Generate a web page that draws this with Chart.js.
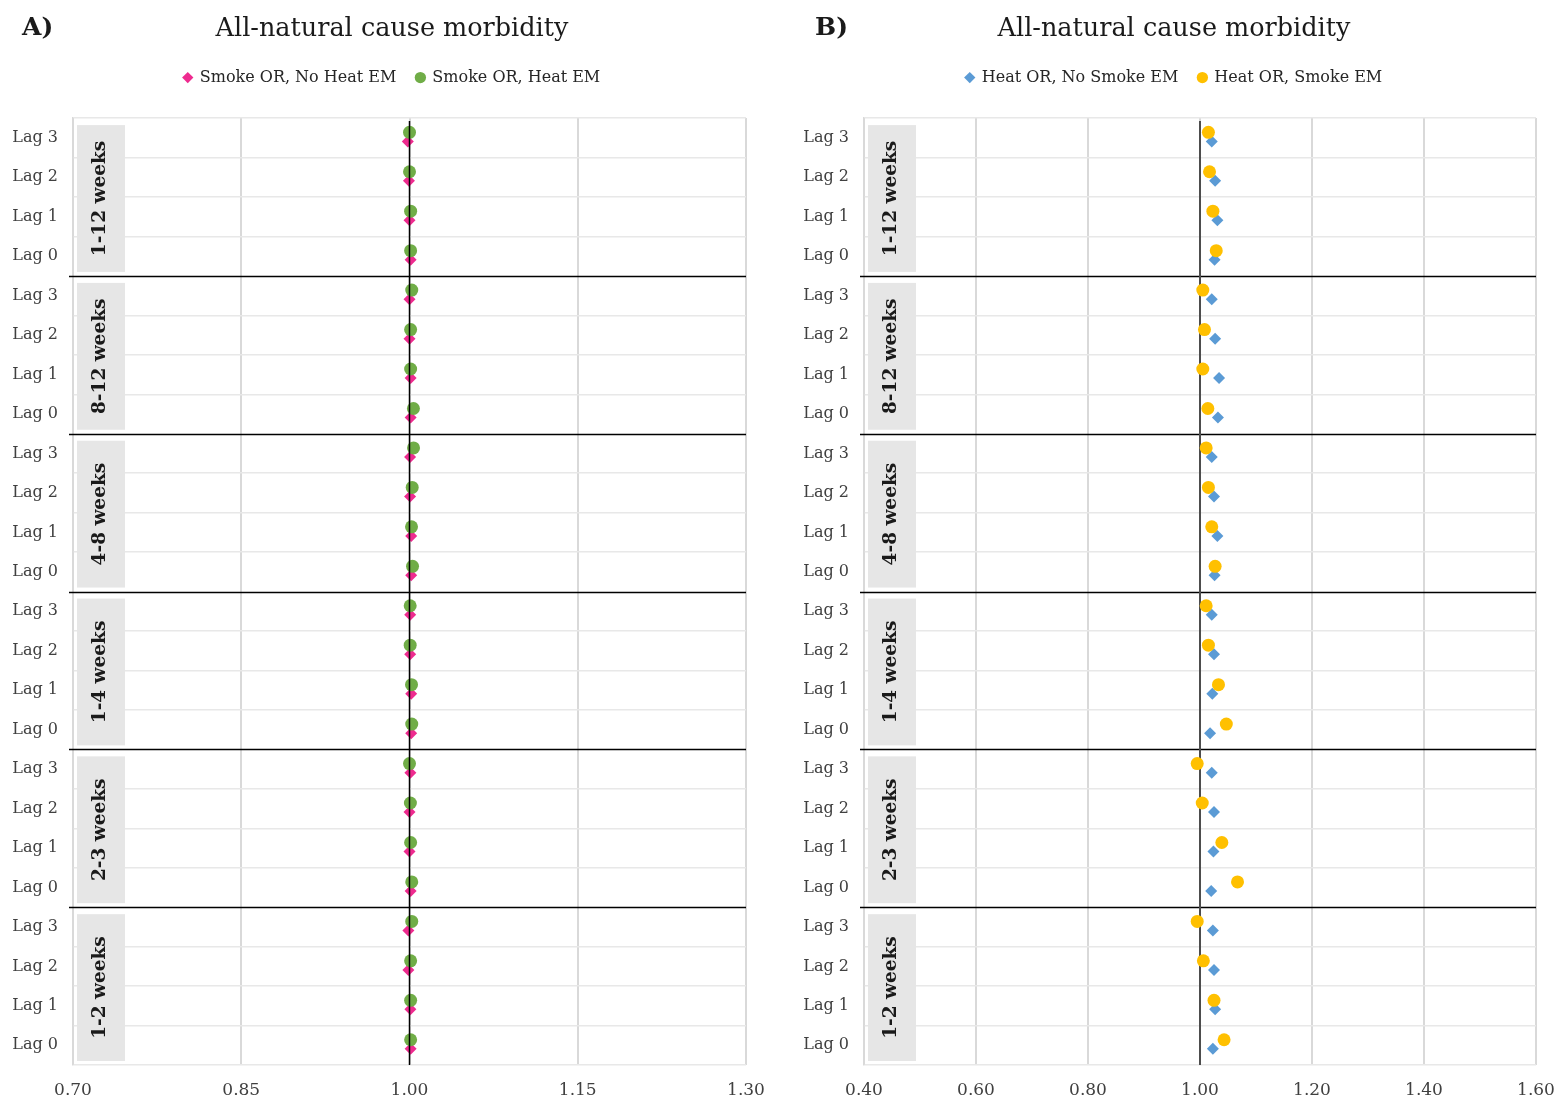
<!DOCTYPE html>
<html>
<head>
<meta charset="utf-8">
<script src="https://cdn.jsdelivr.net/npm/chart.js@4.4.1/dist/chart.umd.min.js"></script>
<style>
  html, body { margin: 0; padding: 0; background: #fff; }
  body { width: 1558px; height: 1100px; position: relative; overflow: hidden; }
  .panel { position: absolute; top: 0; height: 1100px; }
  #panelA { left: 0; width: 784px; }
  #panelB { left: 790px; width: 768px; }
</style>
</head>
<body>
<div class="panel" id="panelA"><canvas id="chartA"></canvas></div>
<div class="panel" id="panelB"><canvas id="chartB"></canvas></div>
<script>
// rows run top to bottom: each window holds Lag 3 .. Lag 0
const windows = ["1-12 weeks", "8-12 weeks", "4-8 weeks", "1-4 weeks", "2-3 weeks", "1-2 weeks"];
const lags = ["Lag 3", "Lag 2", "Lag 1", "Lag 0"];

const ticksA = [0.70, 0.85, 1.00, 1.15, 1.30];
const ticksB = [0.40, 0.60, 0.80, 1.00, 1.20, 1.40, 1.60];

// A) smoke odds ratios
const smokeNoHeatEM = [
  0.9985, 0.9995, 1.0000, 1.0010,
  1.0000, 1.0000, 1.0010, 1.0010,
  1.0005, 1.0005, 1.0015, 1.0015,
  1.0006, 1.0006, 1.0015, 1.0015,
  1.0008, 1.0000, 1.0000, 1.0010,
  0.9990, 0.9990, 1.0008, 1.0010
];
const smokeHeatEM = [
  1.0000, 1.0000, 1.0010, 1.0010,
  1.0020, 1.0010, 1.0010, 1.0035,
  1.0036, 1.0024, 1.0018, 1.0027,
  1.0006, 1.0006, 1.0018, 1.0020,
  1.0000, 1.0008, 1.0010, 1.0020,
  1.0020, 1.0010, 1.0010, 1.0010
];

// B) heat odds ratios
const heatNoSmokeEM = [
  1.021, 1.027, 1.031, 1.026,
  1.021, 1.027, 1.034, 1.032,
  1.021, 1.025, 1.031, 1.026,
  1.021, 1.025, 1.022, 1.018,
  1.021, 1.025, 1.024, 1.020,
  1.023, 1.025, 1.027, 1.023
];
const heatSmokeEM = [
  1.015, 1.017, 1.023, 1.029,
  1.005, 1.008, 1.005, 1.014,
  1.011, 1.015, 1.021, 1.027,
  1.011, 1.015, 1.033, 1.047,
  0.995, 1.004, 1.039, 1.067,
  0.995, 1.006, 1.025, 1.043
];

const rowLabels = windows.flatMap(() => lags);
const nRows = rowLabels.length;
const serif = "'DejaVu Serif', 'Liberation Serif', serif";

// circles sit a little above the row centre, diamonds a little below
const toPoints = (vals, shift) => vals.map((v, i) => ({ x: v, y: i + 0.5 + shift }));

// empty axis used only to reserve space
const spacer = (position, size) => ({
  type: "linear",
  position,
  display: true,
  grid: { display: false, drawTicks: false },
  border: { display: false },
  ticks: { display: false },
  afterFit: (s) => {
    if (s.isHorizontal()) s.height = size; else s.width = size;
  }
});

const panelDecor = {
  id: "panelDecor",
  beforeDatasetsDraw(chart, args, opts) {
    const { ctx, chartArea: a, scales: { y } } = chart;
    ctx.save();
    // grey boxes holding the exposure window names
    windows.forEach((name, g) => {
      const top = y.getPixelForValue(g * 4) + 7;
      const bottom = y.getPixelForValue(g * 4 + 4) - 4;
      const left = a.left + 4, w = 48;
      ctx.fillStyle = "#e6e6e6";
      ctx.fillRect(left, top, w, bottom - top);
      ctx.save();
      ctx.translate(left + w / 2 - 1, (top + bottom) / 2);
      ctx.rotate(-Math.PI / 2);
      ctx.fillStyle = "#1a1a1a";
      ctx.font = "bold 18.5px " + serif;
      ctx.textAlign = "center";
      ctx.textBaseline = "middle";
      ctx.fillText(name, 0, 0);
      ctx.restore();
    });
    // black separators between windows
    ctx.strokeStyle = "#000";
    ctx.lineWidth = 1.5;
    for (let g = 1; g < windows.length; g++) {
      const py = Math.round(y.getPixelForValue(g * 4)) + 0.5;
      ctx.beginPath();
      ctx.moveTo(a.left - 4, py);
      ctx.lineTo(a.right, py);
      ctx.stroke();
    }
    if (!opts.refOnTop) drawRef(chart, opts);
    ctx.restore();
  },
  afterDatasetsDraw(chart, args, opts) {
    if (opts.refOnTop) drawRef(chart, opts);
  },
  afterDraw(chart, args, opts) {
    const { ctx } = chart;
    ctx.save();
    ctx.fillStyle = "#1a1a1a";
    ctx.font = "bold 25px " + serif;
    ctx.textBaseline = "middle";
    ctx.fillText(opts.tag, opts.tagX, 28);
    ctx.restore();
  }
};

// vertical line at OR = 1
function drawRef(chart, opts) {
  const { ctx, chartArea: a, scales: { x } } = chart;
  const px = x.getPixelForValue(1);
  ctx.save();
  ctx.strokeStyle = opts.refColor;
  ctx.lineWidth = opts.refWidth;
  ctx.beginPath();
  ctx.moveTo(px, a.top + 3);
  ctx.lineTo(px, a.bottom);
  ctx.stroke();
  ctx.restore();
}

function makePanel(id, cfg) {
  const groupLine = (ctx) => (ctx.index > 0 && ctx.index < nRows && ctx.index % 4 === 0);
  return new Chart(document.getElementById(id), {
    type: "scatter",
    data: {
      datasets: [
        {
          label: cfg.diamondLabel,
          data: toPoints(cfg.diamond, 0.09),
          pointStyle: "rectRot",
          pointRadius: 6,
          pointHoverRadius: 6,
          backgroundColor: cfg.diamondColor,
          borderColor: cfg.diamondColor,
          borderWidth: 0,
          order: 1
        },
        {
          label: cfg.circleLabel,
          data: toPoints(cfg.circle, -0.14),
          pointStyle: "circle",
          pointRadius: 6.5,
          pointHoverRadius: 6.5,
          backgroundColor: cfg.circleColor,
          borderColor: cfg.circleColor,
          borderWidth: 0,
          order: 0
        }
      ]
    },
    options: {
      responsive: true,
      maintainAspectRatio: false,
      animation: false,
      layout: { padding: 0 },
      plugins: {
        title: {
          display: true,
          text: "All-natural cause morbidity",
          color: "#1a1a1a",
          font: { family: serif, size: 25.5, weight: "normal" },
          padding: { top: 14, bottom: 5 }
        },
        legend: {
          display: true,
          position: "top",
          labels: {
            usePointStyle: true,
            boxWidth: 8,
            boxHeight: 8,
            padding: 20,
            color: "#262626",
            font: { family: serif, size: 16 },
            sort: (a, b) => a.datasetIndex - b.datasetIndex
          }
        },
        tooltip: { enabled: false },
        panelDecor: cfg.decor
      },
      scales: {
        x: {
          type: "linear",
          min: cfg.ticks[0],
          max: cfg.ticks[cfg.ticks.length - 1],
          afterBuildTicks: (s) => { s.ticks = cfg.ticks.map((v) => ({ value: v })); },
          afterFit: (s) => {
            s.height = 35;
            s.paddingLeft = 0;
            s.paddingRight = 0;
          },
          grid: { color: "#d9d9d9", lineWidth: 2, drawTicks: false },
          border: { display: false },
          ticks: {
            padding: 15,
            color: "#404040",
            font: { family: serif, size: 17 },
            callback: (v) => Number(v).toFixed(2)
          }
        },
        y: {
          type: "linear",
          reverse: true,
          min: 0,
          max: nRows,
          afterBuildTicks: (s) => { s.ticks = rowLabels.map((_, i) => ({ value: i + 0.5 })); },
          afterFit: (s) => { s.width = cfg.axisWidth; },
          grid: {
            offset: true,
            color: (ctx) => (groupLine(ctx) ? "rgba(0,0,0,0)" : "#e8e8e8"),
            lineWidth: 1.5,
            drawTicks: false
          },
          border: { display: true, color: "#d9d9d9", width: 1.5 },
          ticks: {
            padding: 15,
            color: "#404040",
            font: { family: serif, size: 16 },
            callback: (v) => rowLabels[Math.floor(v)]
          }
        },
        gapTop: spacer("top", 22.5),
        gapRight: spacer("right", cfg.padRight)
      }
    },
    plugins: [panelDecor]
  });
}

makePanel("chartA", {
  ticks: ticksA,
  axisWidth: 73,
  padRight: 38,
  diamond: smokeNoHeatEM,
  circle: smokeHeatEM,
  diamondLabel: "Smoke OR, No Heat EM",
  circleLabel: "Smoke OR, Heat EM",
  diamondColor: "#ee2b8f",
  circleColor: "#70ad47",
  decor: { tag: "A)", tagX: 22, refColor: "#000", refWidth: 1.5, refOnTop: true }
});

makePanel("chartB", {
  ticks: ticksB,
  axisWidth: 74,
  padRight: 22,
  diamond: heatNoSmokeEM,
  circle: heatSmokeEM,
  diamondLabel: "Heat OR, No Smoke EM",
  circleLabel: "Heat OR, Smoke EM",
  diamondColor: "#5b9bd5",
  circleColor: "#ffc000",
  decor: { tag: "B)", tagX: 25, refColor: "#4d4d4d", refWidth: 2, refOnTop: false }
});
</script>
</body>
</html>
